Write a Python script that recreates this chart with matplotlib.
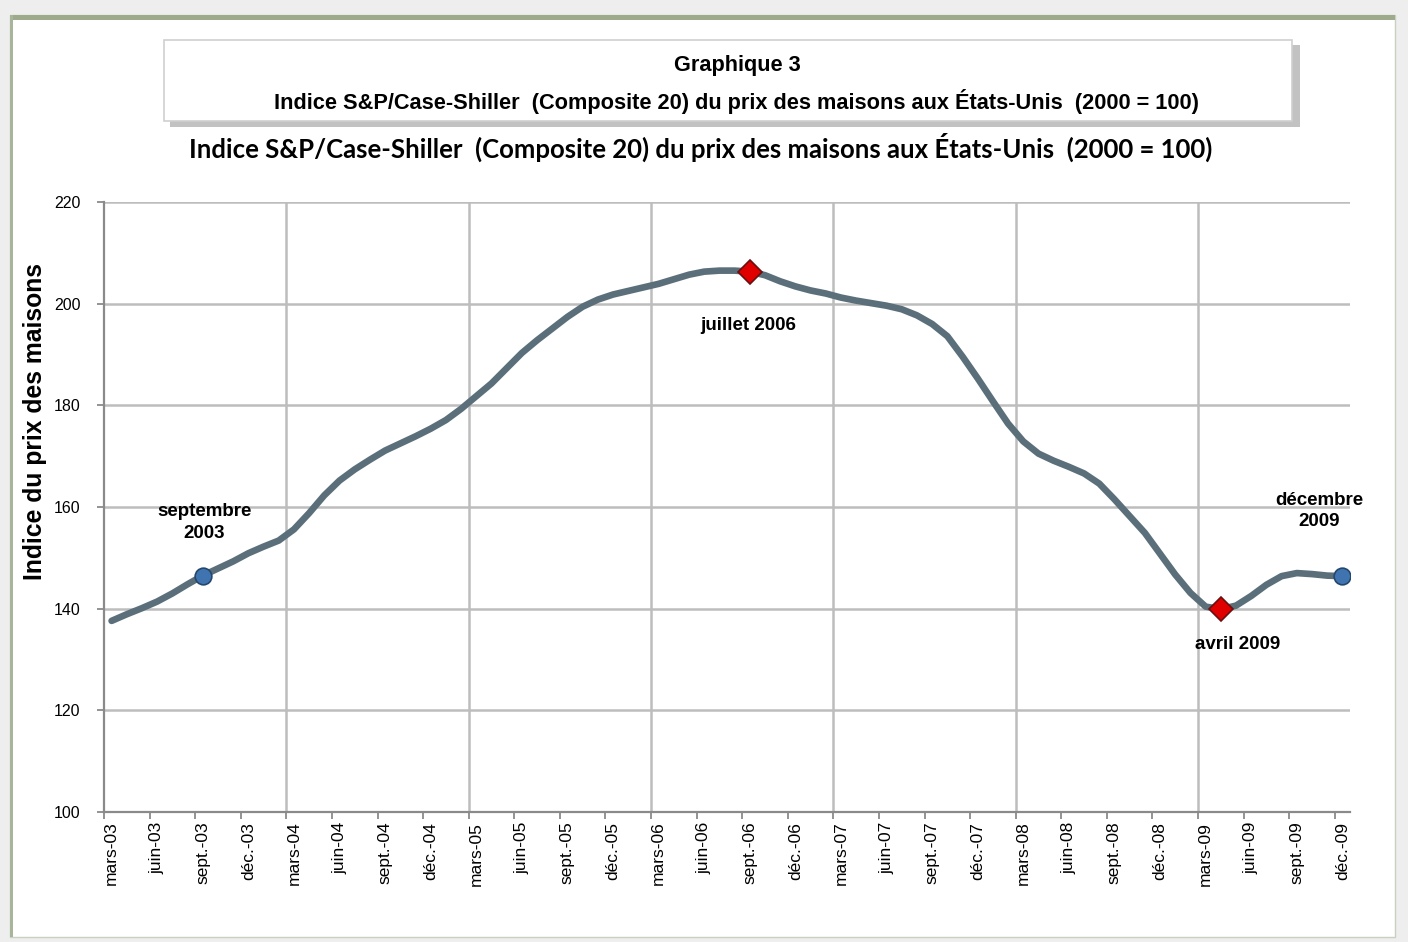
import matplotlib
matplotlib.use("Agg")
import matplotlib.pyplot as plt
from matplotlib.patches import Rectangle
import numpy as np

# Indice S&P/Case-Shiller Composite 20, mensuel, mars 2003 -> decembre 2009
months = ["mars", "avr.", "mai", "juin", "juil.", "août", "sept.", "oct.", "nov.", "déc.", "janv.", "févr."]
index_values = [
    137.6, 138.9, 140.1, 141.4, 143.0, 144.8, 146.5, 147.9, 149.3, 150.9, 152.2, 153.4,   # 2003-04
    155.6, 158.8, 162.3, 165.2, 167.4, 169.3, 171.1, 172.5, 173.9, 175.4, 177.1, 179.3,   # 2004-05
    181.8, 184.3, 187.3, 190.3, 192.8, 195.1, 197.4, 199.4, 200.8, 201.8, 202.5, 203.2,   # 2005-06
    203.9, 204.8, 205.7, 206.3, 206.5, 206.5, 206.3, 205.6, 204.4, 203.4, 202.6, 202.0,   # 2006-07
    201.2, 200.6, 200.1, 199.6, 198.9, 197.7, 196.0, 193.6, 189.6, 185.3, 180.8, 176.4,   # 2007-08
    172.9, 170.5, 169.1, 167.9, 166.6, 164.6, 161.5, 158.2, 154.9, 150.8, 146.7, 143.1,   # 2008-09
    140.4, 139.9, 140.6, 142.5, 144.7, 146.4, 147.0, 146.8, 146.5, 146.4,                 # 2009
]
start_year = 2003
start_month = 0  # mars

# points remarquables : (indice du mois, texte, position du texte)
blue_points = [6, 81]
red_points = [42, 73]
notes = [
    (6.1, 157.0, "septembre\n2003"),
    (41.9, 195.8, "juillet 2006"),
    (74.1, 132.9, "avril 2009"),
    (79.5, 159.2, "décembre\n2009"),
]

title = "Indice S&P/Case-Shiller  (Composite 20) du prix des maisons aux États-Unis  (2000 = 100)"
box_title = "Graphique 3"
ylabel = "Indice du prix des maisons"

W, H = 1408, 942
fig = plt.figure(figsize=(W / 100, H / 100), dpi=100)
fig.patch.set_facecolor("#eeeeee")

def fx(px):
    return px / W

def fy(py):
    return 1 - py / H

# panneau blanc avec liseré vert
fig.patches.append(Rectangle((fx(10), fy(937)), fx(1395) - fx(10), fy(15) - fy(937),
                             transform=fig.transFigure, facecolor="white",
                             edgecolor="#c8d0c0", lw=1, zorder=-2))
fig.patches.append(Rectangle((fx(10), fy(20)), fx(1395) - fx(10), fy(15) - fy(20),
                             transform=fig.transFigure, facecolor="#9eaa8c",
                             edgecolor="none", zorder=-1))
fig.patches.append(Rectangle((fx(10), fy(937)), fx(13) - fx(10), fy(15) - fy(937),
                             transform=fig.transFigure, facecolor="#a9b59a",
                             edgecolor="none", zorder=-1))

# encadré du titre avec ombre
fig.patches.append(Rectangle((fx(170), fy(127)), fx(1300) - fx(170), fy(45) - fy(127),
                             transform=fig.transFigure, facecolor="#9a9a9a",
                             edgecolor="none", alpha=0.6, zorder=1))
fig.patches.append(Rectangle((fx(164), fy(121)), fx(1292) - fx(164), fy(40) - fy(121),
                             transform=fig.transFigure, facecolor="white",
                             edgecolor="#cfcfcf", lw=1.2, zorder=2))
fig.text(fx(737), fy(66), box_title, ha="center", va="center", fontsize=15.7,
         fontweight="bold", family="Liberation Sans", zorder=3)
fig.text(fx(737), fy(101), title, ha="center", va="center", fontsize=15.7,
         fontweight="bold", family="Liberation Sans", zorder=3)

fig.text(fx(701), fy(147), title, ha="center", va="center", fontsize=18.5,
         fontweight="bold", family="Lato")

ax = fig.add_axes([fx(104), fy(812), fx(1350) - fx(104), fy(202) - fy(812)])
ax.set_zorder(5)
ax.patch.set_alpha(0)
x = np.arange(len(index_values))
ax.plot(x, index_values, color="#5b6f7b", lw=4.8, solid_capstyle="round",
        solid_joinstyle="round", zorder=3)

for i in blue_points:
    ax.plot(i, index_values[i], "o", ms=12, color="#3f74b0", mec="#24476e", mew=1.2, zorder=4)
for i in red_points:
    ax.plot(i, index_values[i], "D", ms=12.5, color="#e00000", mec="#6a1010", mew=1.2, zorder=4)

for nx, ny, txt in notes:
    ax.text(nx, ny, txt, ha="center", va="center", fontsize=13.5, fontweight="bold",
            family="Liberation Sans", linespacing=1.35, zorder=5)

ax.set_xlim(-0.5, len(index_values) - 0.5)
ax.set_ylim(100, 220)
ax.set_yticks(range(100, 221, 20))
ax.set_xticks(np.arange(-0.5, len(index_values) - 1, 3))
ax.set_xticklabels([])

labels = []
pos = list(range(0, len(index_values), 3))
for p in pos:
    m = (start_month + p) % 12
    yr = (start_year + (start_month + p + 2) // 12) % 100
    labels.append("%s-%02d" % (months[m], yr))
ax.set_xticks(pos, minor=True)
ax.set_xticklabels(labels, minor=True, rotation=90, fontsize=12.5, family="Liberation Sans")
ax.tick_params(axis="x", which="minor", length=0, pad=7)
ax.tick_params(axis="x", which="major", length=5, direction="out", color="#8a8a8a", width=1.3)
ax.tick_params(axis="y", length=5, direction="out", color="#8a8a8a", width=1.3,
               labelsize=11.5, pad=12)
for lab in ax.get_yticklabels():
    lab.set_family("Liberation Sans")

ax.grid(axis="y", color="#bdbdbd", lw=1.8, zorder=1)
for g in np.arange(11.5, len(index_values), 12):
    ax.axvline(g, color="#bdbdbd", lw=1.8, zorder=1)

for s in ["top", "right"]:
    ax.spines[s].set_visible(False)
for s in ["left", "bottom"]:
    ax.spines[s].set_color("#8a8a8a")
    ax.spines[s].set_linewidth(1.6)

fig.text(fx(35), fy(422), ylabel, rotation=90, ha="center", va="center",
         fontsize=17.8, fontweight="bold", family="Liberation Sans")

fig.savefig("out.png", dpi=100, facecolor=fig.get_facecolor())
